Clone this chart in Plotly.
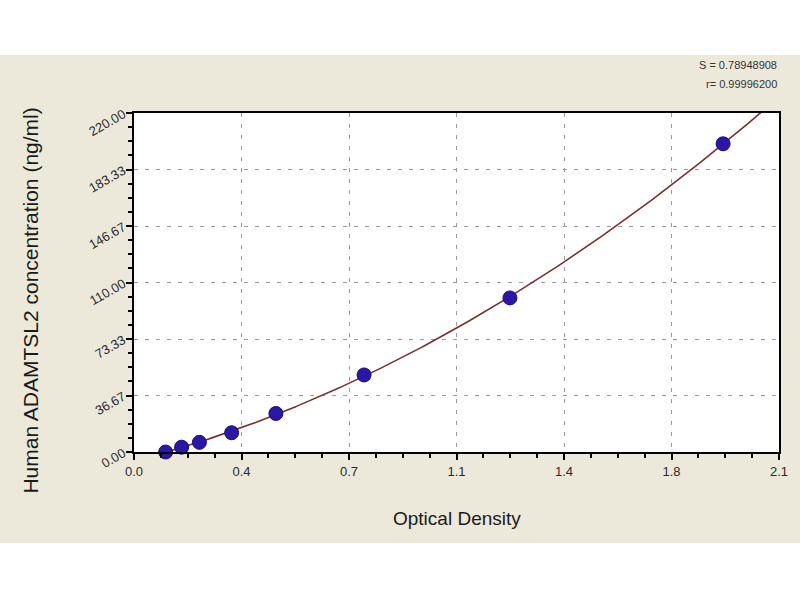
import numpy as np
import plotly.graph_objects as go

# Standard curve data
od_values = [0.103, 0.155, 0.213, 0.318, 0.462, 0.749, 1.224, 1.918]
concentrations = [0.0, 3.12, 6.25, 12.5, 25.0, 50.0, 100.0, 200.0]

x_tickvals = [0.0, 0.35, 0.7, 1.05, 1.4, 1.75, 2.1]
x_ticktext = ["0.0", "0.4", "0.7", "1.1", "1.4", "1.8", "2.1"]
y_tickvals = [0.0, 36.667, 73.333, 110.0, 146.667, 183.333, 220.0]
y_ticktext = ["0.00", "36.67", "73.33", "110.00", "146.67", "183.33", "220.00"]

stat_lines = ["S = 0.78948908", "r= 0.99996200"]

# Fitted standard curve (quadratic fit of the standards)
coef = np.polyfit(od_values, concentrations, 2)
fit_x = np.linspace(min(od_values), 2.1, 200)
fit_y = np.polyval(coef, fit_x)

fig = go.Figure()
fig.add_trace(go.Scatter(
    x=fit_x, y=fit_y, mode="lines",
    line=dict(color="#7a2e2e", width=1.6),
    hoverinfo="skip", showlegend=False,
))
fig.add_trace(go.Scatter(
    x=od_values, y=concentrations, mode="markers",
    marker=dict(size=14, color="#2b17a6", line=dict(color="#1a0c6e", width=1)),
    showlegend=False, cliponaxis=False,
))

axis_common = dict(
    showline=True, linecolor="black", linewidth=2, mirror=True,
    ticks="outside", tickcolor="black", ticklen=6, tickwidth=1.5,
    showgrid=True, gridcolor="#9a9a9a", griddash="4px,7px", gridwidth=1.2,
    zeroline=False,
    tickfont=dict(family="Liberation Sans, Arial", size=13, color="#2a2a2a"),
)

fig.update_xaxes(
    range=[0, 2.1], tickmode="array", tickvals=x_tickvals, ticktext=x_ticktext,
    minor=dict(dtick=0.0875, tick0=0, ticks="outside", ticklen=4, tickcolor="black", tickwidth=1.5, showgrid=False),
    **axis_common,
)
fig.update_yaxes(
    range=[0, 220], tickmode="array", tickvals=y_tickvals, ticktext=y_ticktext,
    tickangle=-30,
    minor=dict(dtick=9.16667, tick0=0, ticks="outside", ticklen=4, tickcolor="black", tickwidth=1.5, showgrid=False),
    **axis_common,
)

annotations = [
    dict(text="Optical Density", xref="paper", yref="paper", x=0.5, y=-0.195,
         xanchor="center", yanchor="middle", showarrow=False,
         font=dict(family="Liberation Sans, Arial", size=19, color="#1a1a1a")),
    dict(text="Human ADAMTSL2 concentration (ng/ml)", xref="paper", yref="paper",
         x=-0.1605, y=0.448, textangle=-90, xanchor="center", yanchor="middle",
         showarrow=False, font=dict(family="Liberation Sans, Arial", size=21, color="#1a1a1a")),
    dict(text=stat_lines[0], xref="paper", yref="paper", x=1.0, y=1.1416,
         xanchor="right", yanchor="middle", showarrow=False,
         font=dict(family="Liberation Sans, Arial", size=11, color="#333")),
    dict(text=stat_lines[1], xref="paper", yref="paper", x=1.0, y=1.0855,
         xanchor="right", yanchor="middle", showarrow=False,
         font=dict(family="Liberation Sans, Arial", size=11, color="#333")),
]

shapes = [
    dict(type="rect", xref="paper", yref="paper", x0=-0.3, x1=1.1, y0=1.1711, y1=1.5,
         fillcolor="white", line=dict(width=0), layer="below"),
    dict(type="rect", xref="paper", yref="paper", x0=-0.3, x1=1.1, y0=-0.6, y1=-0.2684,
         fillcolor="white", line=dict(width=0), layer="below"),
]

fig.update_layout(
    width=800, height=600,
    margin=dict(l=134, r=18, t=113, b=148),
    paper_bgcolor="#ECE9DB", plot_bgcolor="white",
    annotations=annotations, shapes=shapes,
    showlegend=False,
)

fig.write_html(
    "out.html",
    config={"displayModeBar": False},
    post_script="document.body.style.margin='0';document.body.style.overflow='hidden';",
)
